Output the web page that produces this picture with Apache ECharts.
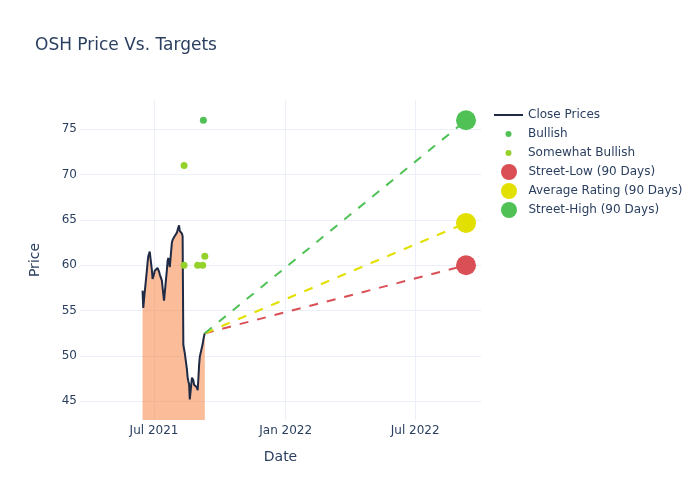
<!DOCTYPE html>
<html>
<head>
<meta charset="utf-8">
<script src="https://cdn.jsdelivr.net/npm/echarts@6/dist/echarts.min.js"></script>
<style>html,body{margin:0;padding:0;background:#fff}#c{width:700px;height:500px}</style>
</head>
<body>
<div id="c"></div>
<script>
// ---- data ----
const closeDates = ['2021-06-15','2021-06-16','2021-06-17','2021-06-18','2021-06-21','2021-06-22','2021-06-23','2021-06-24','2021-06-25','2021-06-28','2021-06-29','2021-06-30','2021-07-01','2021-07-02','2021-07-06','2021-07-07','2021-07-08','2021-07-09','2021-07-12','2021-07-13','2021-07-14','2021-07-15','2021-07-16','2021-07-19','2021-07-20','2021-07-21','2021-07-22','2021-07-23','2021-07-26','2021-07-27','2021-07-28','2021-07-29','2021-07-30','2021-08-02','2021-08-03','2021-08-04','2021-08-05','2021-08-06','2021-08-09','2021-08-10','2021-08-11','2021-08-12','2021-08-13','2021-08-16','2021-08-17','2021-08-18','2021-08-19','2021-08-20','2021-08-23','2021-08-24','2021-08-25','2021-08-26','2021-08-27','2021-08-30','2021-08-31','2021-09-01','2021-09-02','2021-09-03','2021-09-07','2021-09-08','2021-09-09','2021-09-10'];
const closePrices = [57.2,55.3,56.2,56.0,59.4,60.3,61.0,61.0,61.5,59.5,58.5,58.6,59.0,59.4,59.7,59.6,59.3,59.0,58.3,57.5,56.8,56.1,56.3,59.5,60.5,60.8,60.4,59.8,62.5,62.8,63.0,63.1,63.3,63.6,63.9,64.1,64.4,63.8,63.5,63.2,51.2,51.0,50.3,48.5,47.6,47.2,46.9,45.2,47.6,47.8,47.3,46.8,46.9,46.5,46.2,47.5,49.0,49.9,51.3,51.8,52.2,52.5];

const bullishDates = ['2021-09-08'];
const bullishTargets = [76];
const somewhatBullishDates = ['2021-08-12','2021-08-12','2021-08-31','2021-09-07','2021-09-10'];
const somewhatBullishTargets = [71,60,60,60,61];

const targetDate = '2022-09-10';
const targetNames = ['Street-Low (90 Days)','Average Rating (90 Days)','Street-High (90 Days)'];
const targetValues = [60, 64.67, 76];
const targetColors = ['#d94f55','#e2e000','#4fc155'];

const xTickDates = ['2021-07-01','2022-01-01','2022-07-01'];
const xTickLabels = ['Jul 2021','Jan 2022','Jul 2022'];
const yTicks = [45,50,55,60,65,70,75];

// ---- helpers ----
const ts = s => new Date(s + 'T00:00:00').getTime();
const xTickTs = xTickDates.map(ts);
const lastDate = closeDates[closeDates.length-1];
const lastClose = closePrices[closePrices.length-1];
const font = 'DejaVu Sans';
const txt = '#2a3f5f';
const grid = '#ebf0f8';

const series = [
  {
    name: 'Close Prices', type: 'line', symbol: 'none', z: 3,
    data: closeDates.map((d,i)=>[ts(d), closePrices[i]]),
    lineStyle: {color: '#1f2a44', width: 2},
    itemStyle: {color: '#1f2a44'},
    areaStyle: {color: 'rgba(246,121,52,0.5)', origin: 'start', opacity: 1}
  },
  {
    name: 'Bullish', type: 'scatter', symbolSize: 7, z: 5,
    itemStyle: {color: '#4fc155', opacity: 1},
    data: bullishDates.map((d,i)=>[ts(d), bullishTargets[i]])
  },
  {
    name: 'Somewhat Bullish', type: 'scatter', symbolSize: 7, z: 5,
    itemStyle: {color: '#94d22b', opacity: 1},
    data: somewhatBullishDates.map((d,i)=>[ts(d), somewhatBullishTargets[i]])
  }
];
targetNames.forEach((n,i)=>{
  series.push({
    name: n, type: 'line', z: 4,
    lineStyle: {color: targetColors[i], width: 2, type: [9,9]},
    itemStyle: {color: targetColors[i], opacity: 1},
    symbol: 'circle', symbolSize: 20, showSymbol: true,
    data: [
      {value: [ts(lastDate), lastClose], symbolSize: 0},
      {value: [ts(targetDate), targetValues[i]]}
    ]
  });
});

const chart = echarts.init(document.getElementById('c'), null, {renderer: 'canvas'});
chart.setOption({
  animation: false,
  backgroundColor: '#fff',
  textStyle: {fontFamily: font},
  title: {
    text: 'OSH Price Vs. Targets', left: 30, top: 32,
    textStyle: {fontFamily: font, fontSize: 17, fontWeight: 'normal', color: txt}
  },
  legend: [
    {
      orient: 'vertical', left: 489, top: 102, itemWidth: 29, itemHeight: 6, itemGap: 3,
      textStyle: {fontFamily: font, fontSize: 12, color: txt, lineHeight: 16},
      data: [{name: 'Close Prices', icon: 'path://M0,0H29V2H0Z'}, {name: 'Bullish', icon: 'circle'}, {name: 'Somewhat Bullish', icon: 'circle'}]
    },
    {
      orient: 'vertical', left: 496, top: 159, itemWidth: 29, itemHeight: 16, itemGap: 3,
      textStyle: {fontFamily: font, fontSize: 12, color: txt, lineHeight: 16},
      data: targetNames.map(n=>({name: n, icon: 'circle'}))
    }
  ],
  grid: {left: 80, right: 219, top: 100, bottom: 80, containLabel: false},
  xAxis: {
    type: 'value',
    min: ts('2021-03-19') + 14*3600e3,
    max: ts('2022-09-30') + 22*3600e3,
    name: 'Date', nameLocation: 'middle', nameGap: 30,
    nameTextStyle: {fontFamily: font, fontSize: 14, color: txt},
    axisLine: {show: false},
    axisTick: {show: false, customValues: xTickTs},
    axisLabel: {
      customValues: xTickTs, margin: 5, fontFamily: font, fontSize: 12, color: txt,
      formatter: v => { const k = xTickTs.indexOf(v); return k >= 0 ? xTickLabels[k] : ''; }
    },
    splitLine: {show: true, lineStyle: {color: grid, width: 1}}
  },
  yAxis: {
    type: 'value', min: 42.92, max: 78.24,
    name: 'Price', nameLocation: 'middle', nameGap: 38,
    nameTextStyle: {fontFamily: font, fontSize: 14, color: txt},
    axisLine: {show: false},
    axisTick: {show: false, customValues: yTicks},
    axisLabel: {customValues: yTicks, margin: 3, fontFamily: font, fontSize: 12, color: txt},
    splitLine: {show: true, lineStyle: {color: grid, width: 1}}
  },
  series: series
});
</script>
</body>
</html>
